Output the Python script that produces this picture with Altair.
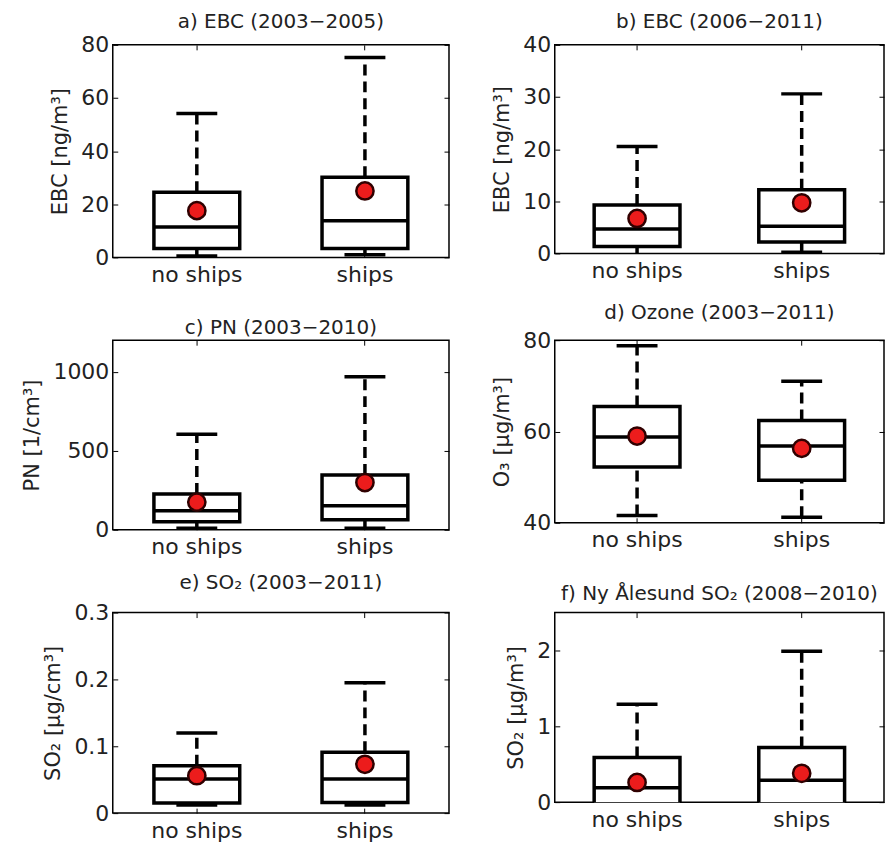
import altair as alt
import pandas as pd

groups = ["no ships", "ships"]

# a) EBC (2003-2005)
a_lo = [0.5, 1.0]
a_q1 = [3.3, 3.3]
a_med = [11.4, 13.8]
a_q3 = [24.5, 30.2]
a_hi = [54.2, 75.2]
a_mean = [17.6, 25.0]

# b) EBC (2006-2011)
b_lo = [-0.3, 0.2]
b_q1 = [1.3, 2.2]
b_med = [4.7, 5.2]
b_q3 = [9.3, 12.2]
b_hi = [20.5, 30.6]
b_mean = [6.7, 9.7]

# c) PN (2003-2010)
c_lo = [10, 10]
c_q1 = [50, 63]
c_med = [120, 152]
c_q3 = [227, 347]
c_hi = [604, 968]
c_mean = [175, 299]

# d) Ozone (2003-2011)
d_lo = [41.6, 41.2]
d_q1 = [52.2, 49.3]
d_med = [58.8, 56.8]
d_q3 = [65.5, 62.4]
d_hi = [78.8, 71.0]
d_mean = [59.0, 56.3]

# e) SO2 (2003-2011)
e_lo = [0.012, 0.012]
e_q1 = [0.015, 0.016]
e_med = [0.051, 0.051]
e_q3 = [0.071, 0.091]
e_hi = [0.120, 0.195]
e_mean = [0.056, 0.073]

# f) Ny Alesund SO2 (2008-2010)
f_lo = [-0.3, -0.3]
f_q1 = [-0.1, -0.1]
f_med = [0.19, 0.29]
f_q3 = [0.59, 0.72]
f_hi = [1.29, 1.99]
f_mean = [0.26, 0.38]

FONT = "DejaVu Sans"
LW = 3.5


def panel(title, ytitle, lo, q1, med, q3, hi, mean, domain, ticks, w, h, toff):
    df = pd.DataFrame({"group": groups, "lo": lo, "q1": q1, "med": med,
                       "q3": q3, "hi": hi, "mean": mean})
    x = alt.X("group:N", sort=groups, title=None,
              scale=alt.Scale(paddingInner=0, paddingOuter=0),
              axis=alt.Axis(labelAngle=0, grid=True,
                            gridDash=[5, h - 10, 5, 3000]))
    yscale = alt.Scale(domain=domain, nice=False, zero=False)
    yaxis = alt.Axis(values=ticks, format="~r", grid=True,
                     gridDash=[5, w - 10, 5, 3000])

    def Y(field):
        return alt.Y(field + ":Q", scale=yscale, axis=yaxis, title=ytitle)

    base = alt.Chart(df)
    upper = base.mark_rule(strokeDash=[11, 6], strokeWidth=LW, color="black",
                           clip=True).encode(x=x, y=Y("q3"), y2="hi:Q")
    lower = base.mark_rule(strokeDash=[11, 6], strokeWidth=LW, color="black",
                           clip=True).encode(x=x, y=Y("lo"), y2="q1:Q")
    cap_hi = base.mark_tick(size=41, thickness=LW, color="black", opacity=1,
                            clip=True).encode(x=x, y=Y("hi"))
    cap_lo = base.mark_tick(size=41, thickness=LW, color="black", opacity=1,
                            clip=True).encode(x=x, y=Y("lo"))
    box = base.mark_bar(size=86, fill="white", stroke="black", opacity=1,
                        strokeWidth=LW, clip=True).encode(x=x, y=Y("q1"), y2="q3:Q")
    median = base.mark_tick(size=86, thickness=LW, color="black", opacity=1,
                            clip=True).encode(x=x, y=Y("med"))
    mpt = base.mark_point(shape="circle", filled=True, size=300, fill="#ec1c1c",
                          stroke="#300000", strokeWidth=2.5, opacity=1,
                          clip=True).encode(x=x, y=Y("mean"))
    return alt.layer(upper, lower, cap_hi, cap_lo, box, median, mpt).properties(
        width=w, height=h,
        title=alt.TitleParams(title, fontSize=20, font=FONT, fontWeight="normal",
                              color="#222", offset=toff, anchor="middle"))


LWID = 337
RWID = 330

pa = panel("a) EBC (2003−2005)", "EBC [ng/m³]", a_lo, a_q1, a_med, a_q3, a_hi, a_mean,
           [0, 80], [0, 20, 40, 60, 80], LWID, 213, 2)
pb = panel("b) EBC (2006−2011)", "EBC [ng/m³]", b_lo, b_q1, b_med, b_q3, b_hi, b_mean,
           [0, 40], [0, 10, 20, 30, 40], RWID, 209, 2)
pc = panel("c) PN (2003−2010)", "PN [1/cm³]", c_lo, c_q1, c_med, c_q3, c_hi, c_mean,
           [0, 1200], [0, 500, 1000], LWID, 190, 2)
pd_ = panel("d) Ozone (2003−2011)", "O₃ [µg/m³]", d_lo, d_q1, d_med, d_q3, d_hi, d_mean,
            [40, 80], [40, 60, 80], RWID, 183, 6)
pe = panel("e) SO₂ (2003−2011)", "SO₂ [µg/cm³]", e_lo, e_q1, e_med, e_q3, e_hi, e_mean,
           [0, 0.3], [0, 0.1, 0.2, 0.3], LWID, 201, 9)
pf = panel("f) Ny Ålesund SO₂ (2008−2010)", "SO₂ [µg/m³]", f_lo, f_q1, f_med, f_q3, f_hi, f_mean,
           [0, 2.5], [0, 1, 2], RWID, 190, 9)

chart = alt.concat(pa, pb, pc, pd_, pe, pf, columns=2,
                   spacing={"row": 83, "column": 106},
                   bounds="flush", align="each").properties(
    padding={"left": 13, "top": 2, "right": 0, "bottom": 0},
    background="white",
).configure_view(stroke="black", strokeWidth=1.5).configure_axis(
    domain=False, ticks=False,
    labelFont=FONT, labelFontSize=22, labelColor="#222", labelPadding=4,
    titleFont=FONT, titleFontSize=21, titleFontWeight="normal", titleColor="#222",
    titlePadding=10, gridColor="black", gridWidth=1, gridOpacity=1,
).configure_axisX(labelPadding=7)

chart.save("out.html", embed_options={"renderer": "svg", "actions": False})
